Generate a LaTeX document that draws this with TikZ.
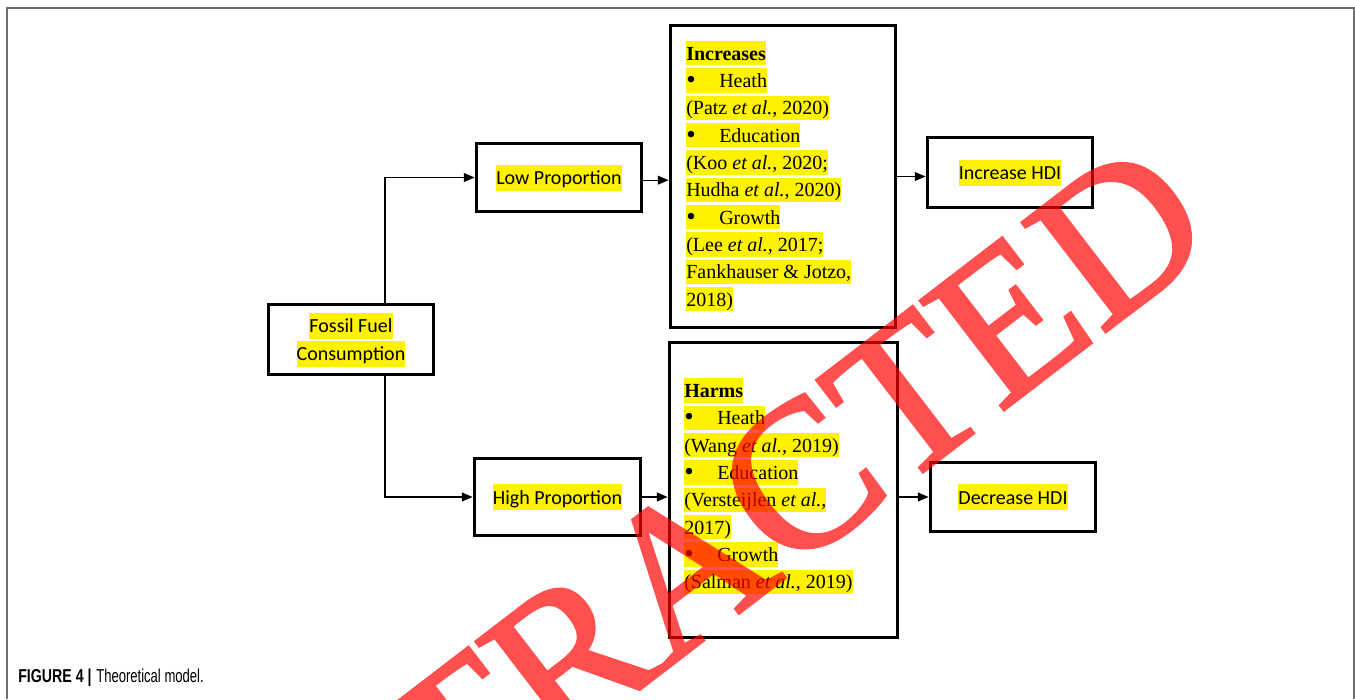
\documentclass[tikz,border=0pt]{standalone}
\usepackage{fontspec}
\setmainfont{Liberation Serif}
\newfontfamily\calib{Carlito}
\newfontfamily\capA[FakeStretch=0.76]{Liberation Sans}
\newfontfamily\capB[FakeStretch=0.70]{Liberation Sans}
\newfontfamily\wmfont[FakeBold=1.5]{Liberation Serif}
\usetikzlibrary{arrows.meta}
\definecolor{framegrey}{RGB}{110,110,110}
\newcommand\hlt[1]{{\setlength{\fboxsep}{0pt}\colorbox{yellow}{\rule[-3.75pt]{0pt}{18.25pt}#1}}}
\newcommand\hlc[1]{{\setlength{\fboxsep}{0pt}\colorbox{yellow}{\rule[-4.5pt]{0pt}{19.5pt}#1}}}
\newcommand\bul[1]{\hlt{\makebox[24.75pt][l]{\raisebox{-0.6pt}{\scalebox{1.35}{\textbullet}}}#1}}
\tikzset{
  box/.style={draw=black, line width=2.8pt, rectangle, inner sep=0pt,
    font=\calib\fontsize{15}{21}\selectfont, align=center},
  listtext/.style={anchor=north west, inner sep=0pt, align=left,
    font=\fontsize{15}{20.5}\selectfont},
  arr/.style={draw=black, line width=1pt, -{Triangle[length=8pt,width=6.5pt]}},
}
\begin{document}
\begin{tikzpicture}[x=0.75pt,y=-0.75pt]
\useasboundingbox (0,0) rectangle (1355,699);
\fill[white] (0,0) rectangle (1355,699);
% frame
\draw[framegrey, line width=1.1pt] (7,699) -- (7,8) -- (1354,8) -- (1354,699);

% boxes
\node[box, minimum width=165*0.75pt, minimum height=70*0.75pt] (fossil) at (351,339.5)
  {\hlc{Fossil Fuel}\\\hlc{Consumption}};
\node[box, minimum width=165*0.75pt, minimum height=68*0.75pt] (low) at (559,177.5)
  {\hlc{Low Proportion}};
\node[box, minimum width=166*0.75pt, minimum height=77*0.75pt] (high) at (557.5,497)
  {\hlc{High Proportion}};
\node[box, minimum width=225*0.75pt, minimum height=302*0.75pt] (inc) at (783,176.5) {};
\node[box, minimum width=228*0.75pt, minimum height=295*0.75pt] (harm) at (783.5,490) {};
\node[box, minimum width=165*0.75pt, minimum height=70*0.75pt] (ihdi) at (1010,172.5)
  {\hlc{Increase HDI}};
\node[box, minimum width=165*0.75pt, minimum height=69*0.75pt] (dhdi) at (1013,497)
  {\hlc{Decrease HDI}};

% list texts
\node[listtext] (inctext) at (686,40.7) {%
\hlt{\textbf{Increases}}\\
\bul{Heath}\\
\hlt{(Patz \textit{et al.}, 2020)}\\
\bul{Education}\\
\hlt{(Koo \textit{et al.}, 2020;}\\
\hlt{Hudha \textit{et al.}, 2020)}\\
\bul{Growth}\\
\hlt{(Lee \textit{et al.}, 2017;}\\
\hlt{Fankhauser \& Jotzo,}\\
\hlt{2018)}};
\node[listtext] (harmtext) at (684,378) {%
\hlt{\textbf{Harms}}\\
\bul{Heath}\\
\hlt{(Wang \textit{et al.,} 2019)}\\
\bul{Education}\\
\hlt{(Versteijlen \textit{et al.},}\\
\hlt{2017)}\\
\bul{Growth}\\
\hlt{(Salman \textit{et al.,} 2019)}};

% connectors
\coordinate (j) at (385,0);
\draw[arr] (fossil.north -| j) |- (low.west);
\draw[arr] (fossil.south -| j) |- (high.west);
\draw[arr] ([yshift=-2pt]low.east) -- ([yshift=-2pt]low.east -| inc.west);
\draw[arr] (high.east) -- (high.east -| harm.west);
\draw[arr] (inc.east) -- (ihdi.west |- inc.east);
\draw[arr] (dhdi.west -| harm.east) -- (dhdi.west);

% caption
\node[anchor=base west, inner sep=0pt] (cap) at (18,682.7)
  {\fontsize{14}{16}\selectfont{\capA\bfseries FIGURE 4 |} {\capB Theoretical model.}};

% watermark
\begin{scope}
\clip (0,0) rectangle (1355,699);
\begin{scope}[transparency group, opacity=0.69]
\node[rotate=37.5, anchor=base west, inner sep=0pt, text=red,
  font=\wmfont\fontsize{157.5}{160}\selectfont] (wm) at (240,996) {RETRACTED};
\end{scope}
\end{scope}
\end{tikzpicture}
\end{document}
